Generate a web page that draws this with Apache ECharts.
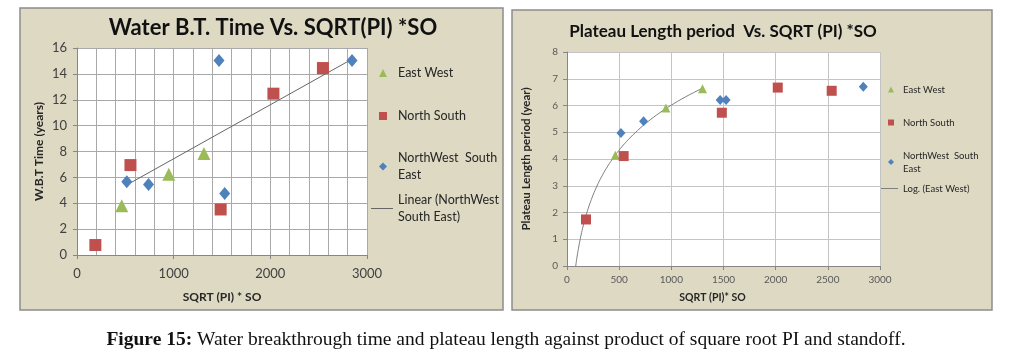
<!DOCTYPE html>
<html><head><meta charset="utf-8">
<script src="https://cdn.jsdelivr.net/npm/echarts@6/dist/echarts.min.js"></script>
<style>html,body{margin:0;padding:0;background:#fff}#c{width:1015px;height:363px}</style>
</head><body><div id="c"></div><script>
// ---- Left chart data: Water B.T. Time vs SQRT(PI)*SO ----
const ewX1 = [463, 950, 1313];
const ewY1 = [3.8, 6.25, 7.85];
const nsX1 = [190, 553, 1486, 2032, 2544];
const nsY1 = [0.77, 6.95, 3.52, 12.47, 14.45];
const nwX1 = [515, 740, 1469, 1528, 2845];
const nwY1 = [5.66, 5.45, 15.04, 4.76, 15.04];
// ---- Right chart data: Plateau length vs SQRT(PI)*SO ----
const ewX2 = [463, 948, 1299];
const ewY2 = [4.14, 5.91, 6.63];
const nsX2 = [182, 543, 1484, 2020, 2537];
const nsY2 = [1.74, 4.11, 5.73, 6.67, 6.55];
const nwX2 = [517, 734, 1468, 1525, 2840];
const nwY2 = [4.97, 5.41, 6.21, 6.21, 6.70];
// ---- ticks ----
const xTicks1 = [0, 1000, 2000, 3000];
const yTicks1 = [0, 2, 4, 6, 8, 10, 12, 14, 16];
const xTicks2 = [0, 500, 1000, 1500, 2000, 2500, 3000];
const yTicks2 = [0, 1, 2, 3, 4, 5, 6, 7, 8];
// ---- names ----
const nameEW = 'East West';
const nameNS = 'North South';
const nameNW = 'NorthWest  South\nEast';
const nameLin = 'Linear (NorthWest\nSouth East)';
const nameLog = 'Log. (East West)';

const FONT = 'Lato';
const zip = (xs, ys) => xs.map((x, i) => [x, ys[i]]);

// least squares linear trendline over the NW-SE series
function linFit(xs, ys) {
  const n = xs.length, mx = xs.reduce((a, b) => a + b) / n, my = ys.reduce((a, b) => a + b) / n;
  let sxy = 0, sxx = 0;
  xs.forEach((x, i) => { sxy += (x - mx) * (ys[i] - my); sxx += (x - mx) * (x - mx); });
  const a = sxy / sxx, b = my - a * mx;
  const x0 = Math.min(...xs), x1 = Math.max(...xs);
  return [[x0, a * x0 + b], [x1, a * x1 + b]];
}
// logarithmic trendline y = a ln x + b over the East-West series
function logFit(xs, ys) {
  const lx = xs.map(Math.log), n = xs.length;
  const mx = lx.reduce((a, b) => a + b) / n, my = ys.reduce((a, b) => a + b) / n;
  let sxy = 0, sxx = 0;
  lx.forEach((x, i) => { sxy += (x - mx) * (ys[i] - my); sxx += (x - mx) * (x - mx); });
  const a = sxy / sxx, b = my - a * mx;
  const xStart = Math.exp(-b / a), xEnd = Math.max(...xs);
  const pts = [];
  for (let i = 0; i <= 80; i++) {
    const x = xStart * Math.pow(xEnd / xStart, i / 80);
    pts.push([x, a * Math.log(x) + b]);
  }
  return pts;
}

const GREEN = '#9bbb59', RED = '#c0504d', BLUE = '#4f81bd';
const gridColor1 = '#a9a9a9', gridColor2 = '#c4c4c4';

function axisCommon(ticks, extra) {
  return Object.assign({
    type: 'value', min: ticks[0], max: ticks[ticks.length - 1], interval: ticks[1] - ticks[0],
    nameLocation: 'middle',
    axisLine: { show: true, lineStyle: { color: '#868686', width: 1 } },
    axisTick: { show: true, length: 4, lineStyle: { color: '#868686' } },
  }, extra);
}

const chart = echarts.init(document.getElementById('c'), null, { renderer: 'canvas' });

function legendItem(left, top, name, icon, itemWidth, itemHeight, fontSize, lineHeight, padLeft) {
  return {
    left, top, orient: 'vertical', itemWidth, itemHeight, itemGap: 0, padding: 0,
    selectedMode: false, data: [{ name, icon }],
    textStyle: { fontFamily: FONT, fontSize, lineHeight, color: '#262626', padding: [0, 0, 0, padLeft] }
  };
}

const option = {
  animation: false,
  backgroundColor: '#ffffff',
  graphic: [
    { type: 'rect', z: -100, silent: true, shape: { x: 20, y: 8, width: 483, height: 302 },
      style: { fill: '#ddd9c3', stroke: '#8c8c8c', lineWidth: 1.5 } },
    { type: 'rect', z: -100, silent: true, shape: { x: 512, y: 10, width: 480, height: 300 },
      style: { fill: '#ddd9c3', stroke: '#8c8c8c', lineWidth: 1.5 } },
    { type: 'text', x: 273, y: 28, style: { text: 'Water B.T. Time Vs. SQRT(PI) *SO', align: 'center', verticalAlign: 'middle',
      textAlign: 'center', textVerticalAlign: 'middle', font: 'bold 22px ' + FONT, fill: '#111' } },
    { type: 'text', x: 723, y: 32, style: { text: 'Plateau Length period  Vs. SQRT (PI) *SO', align: 'center', verticalAlign: 'middle',
      textAlign: 'center', textVerticalAlign: 'middle', font: 'bold 17px ' + FONT, fill: '#111' } },
    { type: 'text', x: 506, y: 340, style: {
      text: '{b|Figure 15:} Water breakthrough time and plateau length against product of square root PI and standoff.',
      align: 'center', verticalAlign: 'middle', textAlign: 'center', textVerticalAlign: 'middle',
      font: '19.5px "Liberation Serif"', fill: '#111',
      rich: { b: { fontWeight: 'bold', fontFamily: 'Liberation Serif', fontSize: 19.5, fill: '#111' } } } }
  ],
  grid: [
    { left: 77, top: 48, width: 290, height: 207, show: true, backgroundColor: '#ffffff', borderWidth: 0 },
    { left: 567, top: 52, width: 313, height: 214, show: true, backgroundColor: '#ffffff', borderWidth: 0 }
  ],
  xAxis: [
    axisCommon(xTicks1, {
      gridIndex: 0, name: 'SQRT (PI) * SO', nameGap: 36,
      nameTextStyle: { fontFamily: FONT, fontWeight: 'bold', fontSize: 12, color: '#262626' },
      axisLabel: { fontFamily: FONT, fontSize: 13, color: '#404040', margin: 12, formatter: v => String(v) },
      splitLine: { show: true, lineStyle: { color: gridColor1 } },
      minorTick: { show: false, splitNumber: 5 },
      minorSplitLine: { show: true, lineStyle: { color: gridColor1 } }
    }),
    axisCommon(xTicks2, {
      gridIndex: 1, name: 'SQRT (PI)* SO', nameGap: 26,
      nameTextStyle: { fontFamily: FONT, fontWeight: 'bold', fontSize: 10.5, color: '#262626', padding: [0, 22, 0, 0] },
      axisLabel: { fontFamily: FONT, fontSize: 10, color: '#595959', margin: 9, formatter: v => String(v) },
      splitLine: { show: true, lineStyle: { color: gridColor2 } }
    })
  ],
  yAxis: [
    axisCommon(yTicks1, {
      gridIndex: 0, name: 'W.B.T Time (years)', nameGap: 32,
      nameTextStyle: { fontFamily: FONT, fontWeight: 'bold', fontSize: 12, color: '#262626' },
      axisLabel: { fontFamily: FONT, fontSize: 13, color: '#404040', margin: 10 },
      splitLine: { show: true, lineStyle: { color: gridColor1 } }
    }),
    axisCommon(yTicks2, {
      gridIndex: 1, name: 'Plateau Length period (year)', nameGap: 35,
      nameTextStyle: { fontFamily: FONT, fontWeight: 'bold', fontSize: 11.5, color: '#262626' },
      axisLabel: { fontFamily: FONT, fontSize: 10, color: '#595959', margin: 9 },
      splitLine: { show: true, lineStyle: { color: gridColor2 } }
    })
  ],
  legend: [
    legendItem(379, 64.5, nameEW, 'triangle', 8, 8, 12.5, 17, 6),
    legendItem(379, 107.5, nameNS, 'rect', 8, 8, 12.5, 17, 6),
    legendItem(379, 149.5, nameNW, 'diamond', 8, 8, 12.5, 17, 6),
    legendItem(371, 191.5, nameLin, 'rect', 22, 1, 12.5, 17, 0),
    legendItem(888, 83, nameEW, 'triangle', 6, 6, 9.5, 13, 4),
    legendItem(888, 116, nameNS, 'rect', 6, 6, 9.5, 13, 4),
    legendItem(888, 149, nameNW, 'diamond', 6, 6, 9.5, 13, 4),
    legendItem(881, 182, nameLog, 'rect', 17, 1, 9.5, 13, 0)
  ],
  series: [
    { name: nameLin, type: 'line', xAxisIndex: 0, yAxisIndex: 0, data: linFit(nwX1, nwY1), symbol: 'none',
      lineStyle: { color: '#666666', width: 1 }, itemStyle: { color: '#666666' }, z: 3 },
    { name: nameEW, type: 'scatter', xAxisIndex: 0, yAxisIndex: 0, data: zip(ewX1, ewY1), symbol: 'triangle', symbolSize: 13,
      itemStyle: { color: GREEN, opacity: 1 }, z: 4 },
    { name: nameNS, type: 'scatter', xAxisIndex: 0, yAxisIndex: 0, data: zip(nsX1, nsY1), symbol: 'rect', symbolSize: 12,
      itemStyle: { color: RED, opacity: 1 }, z: 4 },
    { name: nameNW, type: 'scatter', xAxisIndex: 0, yAxisIndex: 0, data: zip(nwX1, nwY1), symbol: 'diamond', symbolSize: [11, 13],
      itemStyle: { color: BLUE, opacity: 1 }, z: 4 },

    { name: nameLog, type: 'line', xAxisIndex: 1, yAxisIndex: 1, data: logFit(ewX2, ewY2), symbol: 'none',
      lineStyle: { color: '#7f7f7f', width: 1 }, itemStyle: { color: '#7f7f7f' }, z: 3 },
    { name: nameEW, type: 'scatter', xAxisIndex: 1, yAxisIndex: 1, data: zip(ewX2, ewY2), symbol: 'triangle', symbolSize: 9,
      itemStyle: { color: GREEN, opacity: 1 }, z: 4 },
    { name: nameNS, type: 'scatter', xAxisIndex: 1, yAxisIndex: 1, data: zip(nsX2, nsY2), symbol: 'rect', symbolSize: 10,
      itemStyle: { color: RED, opacity: 1 }, z: 4 },
    { name: nameNW, type: 'scatter', xAxisIndex: 1, yAxisIndex: 1, data: zip(nwX2, nwY2), symbol: 'diamond', symbolSize: [9, 10],
      itemStyle: { color: BLUE, opacity: 1 }, z: 4 }
  ]
};
chart.setOption(option);
</script></body></html>
